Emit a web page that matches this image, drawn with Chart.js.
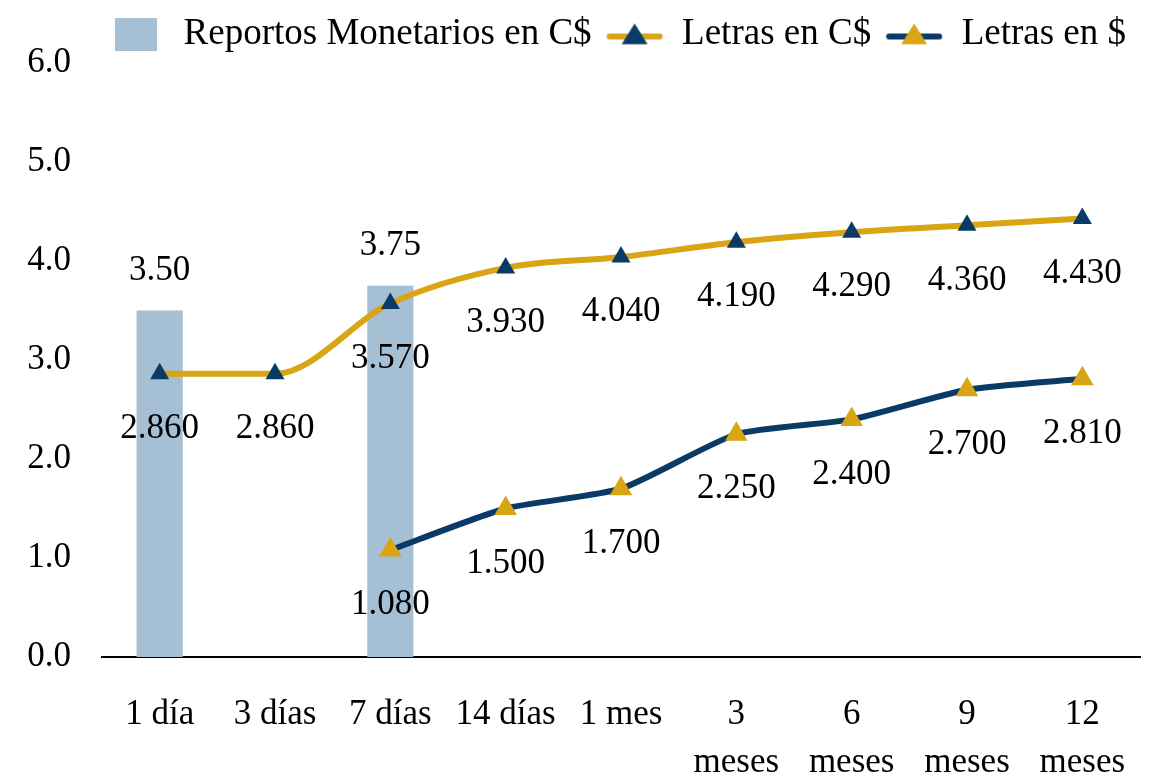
<!DOCTYPE html>
<html>
<head>
<meta charset="utf-8">
<script src="https://cdn.jsdelivr.net/npm/chart.js@4/dist/chart.umd.min.js"></script>
<style>
  html, body { margin: 0; padding: 0; background: #fff; }
  #wrap { width: 1158px; height: 775px; }
</style>
</head>
<body>
<div id="wrap"><canvas id="c" width="1158" height="775"></canvas></div>
<script>
// Data
const categories = ['1 día', '3 días', '7 días', '14 días', '1 mes',
  ['3', 'meses'], ['6', 'meses'], ['9', 'meses'], ['12', 'meses']];
const reportos = [3.50, null, 3.75, null, null, null, null, null, null];
const letrasCS = [2.860, 2.860, 3.570, 3.930, 4.040, 4.190, 4.290, 4.360, 4.430];
const letrasUS = [null, null, 1.080, 1.500, 1.700, 2.250, 2.400, 2.700, 2.810];
const yTicks = [0, 1, 2, 3, 4, 5, 6];

const GOLD = '#D9A514';
const NAVY = '#0A3B66';
const BLUE = '#A5BFD4';
const FONT = "'Liberation Serif', 'DejaVu Serif', serif";
const FS = 35;

// legend icons (line + triangle marker)
function lineIcon(lineColor, markColor, r) {
  const cv = document.createElement('canvas');
  cv.width = 58; cv.height = 30;
  const g = cv.getContext('2d');
  g.strokeStyle = lineColor; g.lineWidth = 6; g.lineCap = 'round';
  g.beginPath(); g.moveTo(4, 17); g.lineTo(54, 17); g.stroke();
  g.fillStyle = markColor;
  g.beginPath(); g.moveTo(29, 17 - r); g.lineTo(29 + r, 17 + r * 0.6); g.lineTo(29 - r, 17 + r * 0.6);
  g.closePath(); g.fill();
  return cv;
}
function boxIcon() {
  const cv = document.createElement('canvas');
  cv.width = 42; cv.height = 33;
  const g = cv.getContext('2d');
  g.fillStyle = BLUE; g.fillRect(0, 0, 42, 33);
  return cv;
}
const icons = [boxIcon(), lineIcon(GOLD, NAVY, 13), lineIcon(NAVY, GOLD, 13)];

// value labels drawn next to each element
const valueLabels = {
  id: 'valueLabels',
  afterDatasetsDraw(chart) {
    const ctx = chart.ctx;
    ctx.save();
    ctx.font = FS + 'px ' + FONT;
    ctx.fillStyle = '#000';
    ctx.textAlign = 'center';
    ctx.textBaseline = 'middle';
    chart.data.datasets.forEach((ds, di) => {
      const meta = chart.getDatasetMeta(di);
      meta.data.forEach((el, i) => {
        const v = ds.data[i];
        if (v == null) return;
        if (ds.type === 'bar') {
          ctx.fillText(v.toFixed(2), el.x, el.y - 40);
        } else {
          ctx.fillText(v.toFixed(3), el.x, el.y + 55);
        }
      });
    });
    ctx.restore();
  }
};

new Chart(document.getElementById('c'), {
  data: {
    labels: categories,
    datasets: [
      { type: 'bar', label: 'Reportos Monetarios en C$', data: reportos,
        backgroundColor: BLUE, barPercentage: 0.4, categoryPercentage: 1, order: 3 },
      { type: 'line', label: 'Letras en C$', data: letrasCS,
        borderColor: GOLD, borderWidth: 6, cubicInterpolationMode: 'monotone',
        pointStyle: 'triangle', pointRadius: 11, pointBackgroundColor: NAVY, pointBorderColor: NAVY,
        pointBorderWidth: 0, order: 2 },
      { type: 'line', label: 'Letras en $', data: letrasUS,
        borderColor: NAVY, borderWidth: 6, tension: 0.2,
        pointStyle: 'triangle', pointRadius: 13, pointBackgroundColor: GOLD, pointBorderColor: GOLD,
        pointBorderWidth: 0, order: 1 },
    ],
  },
  options: {
    responsive: false,
    animation: false,
    layout: { padding: { top: 2, right: 18, left: 0, bottom: 0 } },
    plugins: {
      tooltip: { enabled: false },
      legend: {
        position: 'top',
        align: 'end',
        labels: {
          color: '#000',
          font: { family: FONT, size: 37 },
          usePointStyle: true,
          pointStyleWidth: 58,
          padding: 14,
          sort: (a, b) => a.datasetIndex - b.datasetIndex,
          generateLabels(chart) {
            return Chart.defaults.plugins.legend.labels.generateLabels(chart).map(l => {
              l.pointStyle = icons[l.datasetIndex];
              return l;
            });
          },
        },
      },
    },
    scales: {
      x: {
        afterFit(axis) { axis.height = 118; },
        grid: { display: false },
        border: { display: true, color: '#000', width: 2 },
        ticks: { color: '#000', font: { family: FONT, size: FS, lineHeight: 1.37 }, padding: 26, maxRotation: 0, autoSkip: false },
      },
      y: {
        min: 0, max: 6,
        afterBuildTicks(axis) { axis.ticks = yTicks.map(v => ({ value: v })); },
        afterFit(axis) { axis.width = 102; },
        grid: { display: false },
        border: { display: false },
        ticks: { color: '#000', font: { family: FONT, size: FS }, padding: 23,
          callback: v => v.toFixed(1) },
      },
    },
  },
  plugins: [valueLabels],
});
</script>
</body>
</html>
